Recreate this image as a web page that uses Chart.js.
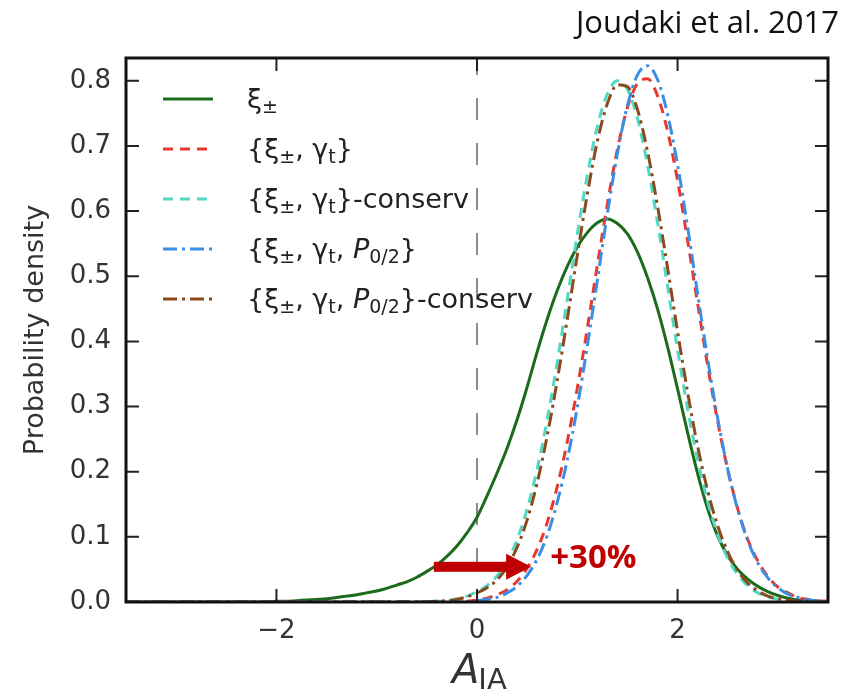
<!DOCTYPE html>
<html>
<head>
<meta charset="utf-8">
<script src="https://cdn.jsdelivr.net/npm/chart.js@4.4.1/dist/chart.umd.min.js"></script>
<style>
    body { margin: 0; background: #fff; }
    canvas { display: block; }
</style>
</head>
<body>
<canvas id="pdfChart" width="862" height="692"></canvas>
<script>
// A_IA grid, -3.5 .. 3.5 in steps of 0.1
const aIA = [
    -3.5, -3.4, -3.3, -3.2, -3.1, -3.0, -2.9, -2.8, -2.7, -2.6,
    -2.5, -2.4, -2.3, -2.2, -2.1, -2.0, -1.9, -1.8, -1.7, -1.6,
    -1.5, -1.4, -1.3, -1.2, -1.1, -1.0, -0.9, -0.8, -0.7, -0.6,
    -0.5, -0.4, -0.3, -0.2, -0.1, 0.0, 0.1, 0.2, 0.3, 0.4,
    0.5, 0.6, 0.7, 0.8, 0.9, 1.0, 1.1, 1.2, 1.3, 1.4,
    1.5, 1.6, 1.7, 1.8, 1.9, 2.0, 2.1, 2.2, 2.3, 2.4,
    2.5, 2.6, 2.7, 2.8, 2.9, 3.0, 3.1, 3.2, 3.3, 3.4,
    3.5
];

// xi_pm
const xiPM = [
    0, 0, 0, 0, 0, 0, 0, 0, 0, 0,
    0, 0, 0, 0, 0, 0.001, 0.001, 0.002, 0.003, 0.004,
    0.005, 0.007, 0.009, 0.011, 0.014, 0.017, 0.021, 0.026, 0.031, 0.038,
    0.047, 0.057, 0.070, 0.086, 0.106, 0.130, 0.163, 0.198, 0.236, 0.280,
    0.330, 0.384, 0.434, 0.478, 0.515, 0.545, 0.567, 0.582, 0.588, 0.581,
    0.565, 0.537, 0.498, 0.450, 0.392, 0.327, 0.260, 0.197, 0.143, 0.101,
    0.071, 0.050, 0.035, 0.024, 0.016, 0.010, 0.006, 0.003, 0.001, 0,
    0
];

// {xi_pm, gamma_t}
const xiGamma = [
    0, 0, 0, 0, 0, 0, 0, 0, 0, 0,
    0, 0, 0, 0, 0, 0, 0, 0, 0, 0,
    0, 0, 0, 0, 0, 0, 0, 0, 0, 0,
    0, 0, 0, 0, 0.001, 0.003, 0.006, 0.011, 0.019, 0.032,
    0.052, 0.081, 0.122, 0.177, 0.246, 0.328, 0.420, 0.517, 0.611, 0.695,
    0.759, 0.796, 0.803, 0.777, 0.723, 0.647, 0.555, 0.458, 0.363, 0.277,
    0.203, 0.143, 0.096, 0.063, 0.039, 0.023, 0.014, 0.007, 0.004, 0.002,
    0.001
];

// {xi_pm, gamma_t}-conserv
const xiGammaCons = [
    0, 0, 0, 0, 0, 0, 0, 0, 0, 0,
    0, 0, 0, 0, 0, 0, 0, 0, 0, 0,
    0, 0, 0, 0, 0, 0, 0, 0, 0, 0,
    0.001, 0.001, 0.002, 0.005, 0.009, 0.016, 0.025, 0.040, 0.062, 0.096,
    0.143, 0.204, 0.280, 0.368, 0.465, 0.564, 0.655, 0.730, 0.780, 0.800,
    0.787, 0.742, 0.671, 0.583, 0.485, 0.387, 0.297, 0.218, 0.154, 0.104,
    0.067, 0.042, 0.025, 0.014, 0.008, 0.004, 0.002, 0.001, 0, 0,
    0
];

// {xi_pm, gamma_t, P_0/2}
const xiGammaP = [
    0, 0, 0, 0, 0, 0, 0, 0, 0, 0,
    0, 0, 0, 0, 0, 0, 0, 0, 0, 0,
    0, 0, 0, 0, 0, 0, 0, 0, 0, 0,
    0, 0, 0, 0, 0, 0.002, 0.004, 0.007, 0.014, 0.024,
    0.041, 0.066, 0.102, 0.153, 0.218, 0.299, 0.393, 0.494, 0.596, 0.688,
    0.762, 0.809, 0.823, 0.802, 0.749, 0.671, 0.576, 0.473, 0.373, 0.282,
    0.204, 0.142, 0.094, 0.060, 0.037, 0.022, 0.012, 0.007, 0.003, 0.002,
    0.001
];

// {xi_pm, gamma_t, P_0/2}-conserv
const xiGammaPCons = [
    0, 0, 0, 0, 0, 0, 0, 0, 0, 0,
    0, 0, 0, 0, 0, 0, 0, 0, 0, 0,
    0, 0, 0, 0, 0, 0, 0, 0, 0, 0,
    0, 0.001, 0.002, 0.004, 0.008, 0.014, 0.022, 0.034, 0.054, 0.084,
    0.126, 0.183, 0.255, 0.340, 0.434, 0.532, 0.626, 0.707, 0.765, 0.794,
    0.791, 0.756, 0.692, 0.608, 0.513, 0.415, 0.322, 0.239, 0.171, 0.117,
    0.077, 0.048, 0.029, 0.017, 0.009, 0.005, 0.003, 0.001, 0.001, 0,
    0
];

const xTicks = [-2, 0, 2];
const yTicks = [0, 0.1, 0.2, 0.3, 0.4, 0.5, 0.6, 0.7, 0.8];

const seriesNames = ["ξ±", "{ξ±, γt}", "{ξ±, γt}-conserv", "{ξ±, γt, P0/2}", "{ξ±, γt, P0/2}-conserv"];

// legend text pieces: n = normal, s = subscript, i = italic
const legendLabels = [
    [["ξ", "n"], ["±", "s"]],
    [["{ξ", "n"], ["±", "s"], [", γ", "n"], ["t", "s"], ["}", "n"]],
    [["{ξ", "n"], ["±", "s"], [", γ", "n"], ["t", "s"], ["}-conserv", "n"]],
    [["{ξ", "n"], ["±", "s"], [", γ", "n"], ["t", "s"], [", ", "n"], ["P", "i"], ["0/2", "s"], ["}", "n"]],
    [["{ξ", "n"], ["±", "s"], [", γ", "n"], ["t", "s"], [", ", "n"], ["P", "i"], ["0/2", "s"], ["}-conserv", "n"]]
];

const arrowFrom = [-0.43, 0.054];
const arrowTo = [0.54, 0.054];
const shiftLabel = "+30%";
const sourceLabel = "Joudaki et al. 2017";

function toPoints(ys) {
    return ys.map((y, i) => ({ x: aIA[i], y: y }));
}

function fmtMinus(v) {
    return v < 0 ? "\u2212" + Math.abs(v) : String(v);
}

// Frame, inward ticks, x=0 line, legend, titles and the arrow
const decorations = {
    id: "decorations",
    beforeDatasetsDraw(chart) {
        const { ctx, chartArea: a, scales } = chart;
        const px = scales.x.getPixelForValue(0);
        ctx.save();
        ctx.strokeStyle = "#8c8c8c";
        ctx.lineWidth = 2;
        ctx.setLineDash([22, 23]);
        ctx.lineDashOffset = 5;
        ctx.beginPath();
        ctx.moveTo(px, a.top);
        ctx.lineTo(px, a.bottom);
        ctx.stroke();
        ctx.restore();
    },
    afterDraw(chart) {
        const { ctx, chartArea: a, scales } = chart;
        ctx.save();

        // ticks pointing inward on all four sides
        ctx.strokeStyle = "#222";
        ctx.lineWidth = 2;
        ctx.beginPath();
        xTicks.forEach(v => {
            const p = scales.x.getPixelForValue(v);
            ctx.moveTo(p, a.bottom); ctx.lineTo(p, a.bottom - 13);
            ctx.moveTo(p, a.top); ctx.lineTo(p, a.top + 13);
        });
        yTicks.forEach(v => {
            const p = scales.y.getPixelForValue(v);
            ctx.moveTo(a.left, p); ctx.lineTo(a.left + 13, p);
            ctx.moveTo(a.right, p); ctx.lineTo(a.right - 13, p);
        });
        ctx.stroke();

        // frame
        ctx.strokeStyle = "#111";
        ctx.lineWidth = 3;
        ctx.strokeRect(a.left, a.top, a.right - a.left, a.bottom - a.top);

        // legend
        chart.data.datasets.forEach((ds, i) => {
            const y = a.top + 41 + i * 50;
            ctx.save();
            ctx.strokeStyle = ds.borderColor;
            ctx.lineWidth = 3;
            ctx.setLineDash(ds.borderDash || []);
            ctx.beginPath();
            ctx.moveTo(a.left + 37, y);
            ctx.lineTo(a.left + 87, y);
            ctx.stroke();
            ctx.restore();

            let x = a.left + 121;
            ctx.fillStyle = "#222";
            ctx.textAlign = "left";
            ctx.textBaseline = "alphabetic";
            legendLabels[i].forEach(([t, kind]) => {
                if (kind === "s") ctx.font = '19px "DejaVu Sans"';
                else if (kind === "i") ctx.font = 'italic 27px "DejaVu Sans"';
                else ctx.font = '27px "DejaVu Sans"';
                ctx.fillText(t, x, y + 9 + (kind === "s" ? 5 : 0));
                x += ctx.measureText(t).width;
            });
        });

        // y axis title
        ctx.save();
        ctx.translate(43, (a.top + a.bottom) / 2);
        ctx.rotate(-Math.PI / 2);
        ctx.font = '27px "DejaVu Sans"';
        ctx.fillStyle = "#333";
        ctx.textAlign = "center";
        ctx.textBaseline = "alphabetic";
        ctx.fillText("Probability density", 0, 0);
        ctx.restore();

        // x axis title: A_IA
        ctx.fillStyle = "#333";
        ctx.textAlign = "left";
        ctx.textBaseline = "alphabetic";
        ctx.font = 'italic 40px "DejaVu Sans"';
        const ax = scales.x.getPixelForValue(0) - 25;
        ctx.fillText("A", ax, 683);
        const aw = ctx.measureText("A").width;
        ctx.font = '29px "DejaVu Sans"';
        ctx.fillText("IA", ax + aw - 1, 689);

        // source note
        ctx.fillStyle = "#111";
        ctx.textAlign = "right";
        ctx.font = '31px "Open Sans"';
        ctx.fillText(sourceLabel, 839, 33);

        // +30% arrow
        const x0 = scales.x.getPixelForValue(arrowFrom[0]);
        const x1 = scales.x.getPixelForValue(arrowTo[0]);
        const ya = scales.y.getPixelForValue(arrowTo[1]);
        ctx.fillStyle = "#c00000";
        ctx.fillRect(x0, ya - 5, x1 - x0 - 22, 10);
        ctx.beginPath();
        ctx.moveTo(x1 - 25, ya - 13);
        ctx.lineTo(x1, ya);
        ctx.lineTo(x1 - 25, ya + 13);
        ctx.closePath();
        ctx.fill();
        ctx.textAlign = "left";
        ctx.font = 'bold 33px "Open Sans"';
        ctx.fillText(shiftLabel, x1 + 19, ya + 1);

        ctx.restore();
    }
};

const tickFont = { family: "DejaVu Sans", size: 26 };

new Chart(document.getElementById("pdfChart"), {
    type: "line",
    data: {
        datasets: [
            {
                label: seriesNames[0],
                data: toPoints(xiPM),
                borderColor: "#1c6b1c",
                borderWidth: 3,
                order: 5
            },
            {
                label: seriesNames[1],
                data: toPoints(xiGamma),
                borderColor: "#e8392f",
                borderWidth: 3,
                borderDash: [10, 7],
                order: 4
            },
            {
                label: seriesNames[2],
                data: toPoints(xiGammaCons),
                borderColor: "#4fd8c4",
                borderWidth: 3,
                borderDash: [10, 7],
                order: 3
            },
            {
                label: seriesNames[3],
                data: toPoints(xiGammaP),
                borderColor: "#3a8ee6",
                borderWidth: 3,
                borderDash: [14, 5, 3, 5],
                order: 2
            },
            {
                label: seriesNames[4],
                data: toPoints(xiGammaPCons),
                borderColor: "#8b4a1e",
                borderWidth: 3,
                borderDash: [14, 5, 3, 5],
                order: 1
            }
        ]
    },
    options: {
        responsive: false,
        devicePixelRatio: 1,
        animation: false,
        layout: { padding: { top: 58, right: 34, left: 0, bottom: 0 } },
        elements: {
            point: { radius: 0 },
            line: { cubicInterpolationMode: "monotone", fill: false }
        },
        plugins: {
            legend: { display: false },
            tooltip: { enabled: false }
        },
        scales: {
            x: {
                type: "linear",
                min: -3.5,
                max: 3.5,
                afterBuildTicks: s => { s.ticks = xTicks.map(v => ({ value: v })); },
                afterFit: s => { s.height = 90; },
                grid: { display: false, drawTicks: false },
                border: { display: false },
                ticks: {
                    font: tickFont,
                    color: "#333",
                    padding: 14,
                    maxRotation: 0,
                    callback: v => fmtMinus(v)
                }
            },
            y: {
                type: "linear",
                min: 0,
                max: 0.835,
                afterBuildTicks: s => { s.ticks = yTicks.map(v => ({ value: v })); },
                afterFit: s => { s.width = 126; },
                grid: { display: false, drawTicks: false },
                border: { display: false },
                ticks: {
                    font: tickFont,
                    color: "#333",
                    padding: 15,
                    callback: v => v.toFixed(1)
                }
            }
        }
    },
    plugins: [decorations]
});
</script>
</body>
</html>
